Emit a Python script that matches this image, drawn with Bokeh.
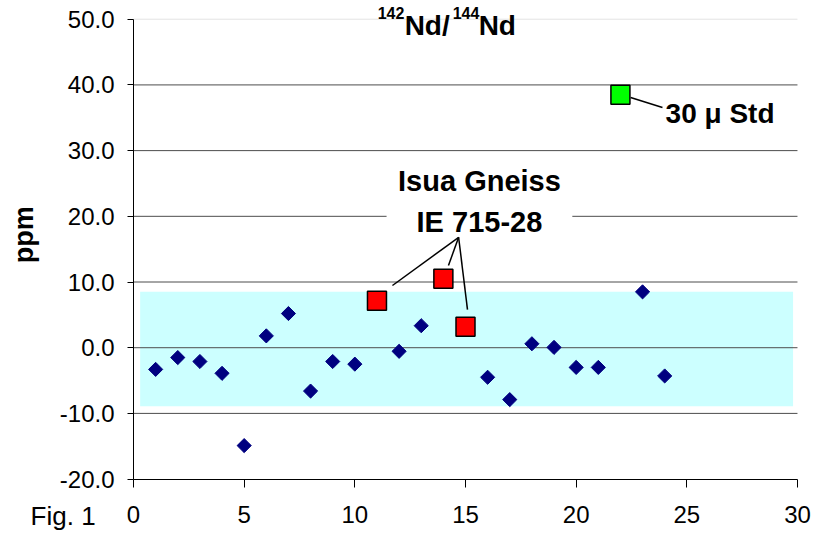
import math
from bokeh.plotting import figure
from bokeh.models import Range1d, FixedTicker, Label, CustomJSTickFormatter
from bokeh.embed import file_html
from bokeh.resources import INLINE

# ---- data ----
blue_x = [1, 2, 3, 4, 5, 6, 7, 8, 9, 10, 12, 13, 16, 17, 18, 19, 20, 21, 23, 24]
blue_y = [-3.3, -1.5, -2.1, -3.9, -14.9, 1.8, 5.2, -6.6, -2.1, -2.5, -0.55, 3.35,
          -4.5, -7.9, 0.6, 0.05, -3.0, -3.0, 8.5, -4.3]
isua_x = [11, 14, 15]
isua_y = [7.15, 10.5, 3.2]
std_x = [22]
std_y = [38.5]
band_x = [0.3, 29.8]
band_y = [-8.9, 8.5]
x_ticks = [0, 5, 10, 15, 20, 25, 30]
y_ticks = [-20, -10, 0, 10, 20, 30, 40, 50]
# leader lines (annotation)
isua_lead_start = (14.69, 16.8)
isua_lead_ends_x = [11.70, 14.23, 15.09]
isua_lead_ends_y = [9.47, 12.51, 5.81]
std_lead_x = [22.46, 23.9]
std_lead_y = [38.09, 36.57]

FONT = "Liberation Sans"

p = figure(width=820, height=533, output_backend="svg", toolbar_location=None,
           title=None, x_range=Range1d(-6.01, 31.04), y_range=Range1d(-28.28, 52.85),
           min_border_left=0, min_border_right=0, min_border_top=0,
           min_border_bottom=0)
p.outline_line_color = None
p.background_fill_color = "white"
p.xgrid.visible = False
p.ygrid.visible = False

# horizontal gridlines spanning x 0..30
grid_y = y_ticks[1:-1]
g1 = p.segment(x0=[x_ticks[0]] * len(grid_y), x1=[x_ticks[-1]] * len(grid_y),
               y0=grid_y, y1=grid_y, line_color="#4d4d4d", line_width=1)
g1.level = "underlay"
g2 = p.segment(x0=[x_ticks[0]], x1=[x_ticks[-1]], y0=y_ticks[-1:], y1=y_ticks[-1:],
               line_color="#e3e3e3", line_width=1)
g2.level = "underlay"

for ax in (p.xaxis[0], p.yaxis[0]):
    ax.axis_line_color = "black"
    ax.major_tick_line_color = "black"
    ax.minor_tick_line_color = None
    ax.major_tick_in = 0
    ax.major_label_text_font = FONT
    ax.major_label_text_font_size = "24px"
    ax.major_label_text_color = "black"

p.xaxis.ticker = FixedTicker(ticks=x_ticks)
p.xaxis.bounds = (x_ticks[0], x_ticks[-1])
p.xaxis.fixed_location = y_ticks[0]
p.xaxis.major_tick_out = 8
p.xaxis.major_label_standoff = 19
p.yaxis.ticker = FixedTicker(ticks=y_ticks)
p.yaxis.bounds = (y_ticks[0], y_ticks[-1])
p.yaxis.fixed_location = x_ticks[0]
p.yaxis.major_tick_out = 6
p.yaxis.major_label_standoff = 13
p.yaxis.formatter = CustomJSTickFormatter(code="return tick.toFixed(1);")

# band
band = p.quad(left=[band_x[0]], right=[band_x[1]], bottom=[band_y[0]], top=[band_y[1]],
              fill_color="#ccffff", line_color=None)
band.level = "image"

# points
p.scatter(blue_x, blue_y, marker="square", size=10, angle=math.pi / 4,
          fill_color="#000080", line_color="#000080")
p.scatter(isua_x, isua_y, marker="square", size=19, fill_color="#ff0000",
          line_color="black", line_width=1.5)
p.scatter(std_x, std_y, marker="square", size=19, fill_color="#00ff00",
          line_color="black", line_width=1.5)

# leader lines
xs = [[isua_lead_start[0], ex] for ex in isua_lead_ends_x] + [std_lead_x]
ys = [[isua_lead_start[1], ey] for ey in isua_lead_ends_y] + [std_lead_y]
ml = p.multi_line(xs, ys, line_color="black", line_width=1.5)
ml.level = "overlay"

# texts
def lab(text, x, y, size, bold=True, align="left", **kw):
    l = Label(x=x, y=y, text=text, text_font=FONT, text_font_size=size,
              text_font_style="bold" if bold else "normal", text_align=align,
              text_baseline="alphabetic", text_color="black", **kw)
    p.add_layout(l)
    return l

# title 142Nd/144Nd
tx = 11.03
lab("142", tx, 50.9, "16px")
lab("Nd/", tx, 49.05, "28px", x_offset=27)
lab("144", tx, 50.9, "16px", x_offset=75)
lab("Nd", tx, 49.05, "28px", x_offset=101)

lab("Isua Gneiss", 15.63, 25.3, "29px", align="center")
lab("IE 715-28", 15.63, 19.25, "29px", align="center",
    background_fill_color="white",
    padding=dict(left=30, right=30, top=2, bottom=0))
lab("30 \u03bc Std", 24.04, 35.6, "28px")

lab("Fig. 1", -4.65, -25.6, "26px", bold=False)
lab("ppm", -4.95, 17.2, "27px", align="center", angle=math.pi / 2)

open("out.html", "w").write(file_html(p, INLINE))
